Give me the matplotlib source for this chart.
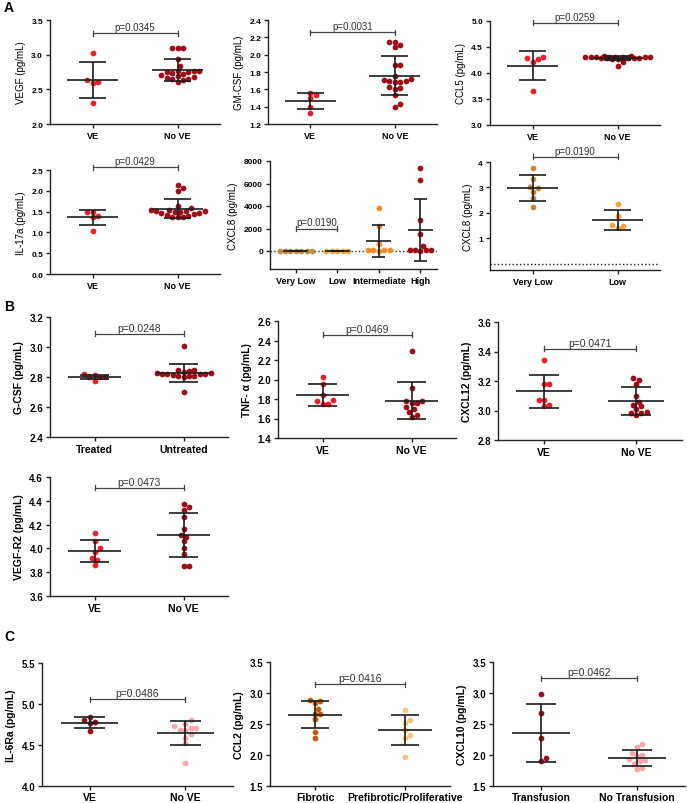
import numpy as np
import matplotlib
matplotlib.use("Agg")
import matplotlib.pyplot as plt

plt.rcParams['font.family'] = ['Liberation Sans', 'DejaVu Sans']

# ---- values (pg/mL) ----
vegf_ve = [3.03, 2.63, 2.61, 2.59, 2.31]
vegf_nove = [3.10, 3.09, 3.09, 2.94, 2.84, 2.77, 2.76, 2.76, 2.75, 2.75,
             2.74, 2.72, 2.70, 2.69, 2.68, 2.66, 2.65, 2.65, 2.64, 2.61]
gmcsf_ve = [1.56, 1.53, 1.50, 1.40, 1.33]
gmcsf_nove = [2.15, 2.15, 2.11, 2.09, 1.88, 1.88, 1.75, 1.72, 1.71, 1.70,
              1.70, 1.69, 1.68, 1.63, 1.62, 1.60, 1.53, 1.43, 1.40]
ccl5_ve = [4.30, 4.27, 4.21, 4.28, 3.65]
ccl5_nove = [4.32, 4.32, 4.31, 4.31, 4.31, 4.30, 4.30, 4.30, 4.30, 4.30,
             4.29, 4.29, 4.29, 4.28, 4.28, 4.27, 4.27, 4.21, 4.14]
il17_ve = [1.50, 1.50, 1.40, 1.36, 1.04]
il17_nove = [2.13, 2.06, 2.00, 1.64, 1.58, 1.55, 1.53, 1.52, 1.52, 1.52,
             1.50, 1.48, 1.46, 1.46, 1.45, 1.43, 1.40, 1.38, 1.37, 1.37]
cxcl8_vlow = [3.78, 3.35, 3.02, 2.97, 2.83, 2.58, 2.22]
cxcl8_low = [2.34, 1.89, 1.52, 1.49, 1.39]
cxcl8_int = [3850, 2200, 650, 120, 80, 60, 100, 40]
cxcl8_high = [7400, 6350, 2750, 1500, 450, 90, 70, 60, 50, 40]
cxcl8_groups = ['Very Low', 'Low', 'Intermediate', 'High']

gcsf_t = [2.813, 2.80, 2.80, 2.773, 2.80, 2.818]
gcsf_u = [3.01, 2.845, 2.85, 2.84, 2.835, 2.83, 2.825, 2.82, 2.82, 2.82,
          2.82, 2.815, 2.81, 2.81, 2.805, 2.80, 2.70]
tnf_ve = [2.03, 1.95, 1.84, 1.79, 1.78, 1.75, 1.75]
tnf_nove = [2.29, 1.91, 1.78, 1.78, 1.76, 1.76, 1.72, 1.70, 1.67, 1.64, 1.62]
cxcl12_ve = [3.34, 3.18, 3.18, 3.07, 3.07, 3.04, 3.03]
cxcl12_nove = [3.22, 3.21, 3.18, 3.10, 3.06, 3.04, 3.03, 3.01, 2.99, 2.98, 2.98, 2.97]
vegfr2_ve = [4.13, 4.06, 4.00, 3.97, 3.92, 3.90, 3.86]
vegfr2_nove = [4.37, 4.345, 4.325, 4.26, 4.16, 4.11, 4.10, 4.06, 4.00, 3.95, 3.85, 3.85]

il6ra_ve = [4.844, 4.804, 4.78, 4.764, 4.676]
il6ra_nove = [4.81, 4.76, 4.73, 4.71, 4.71, 4.68, 4.68, 4.64, 4.59, 4.52, 4.28]
ccl2_fib = [2.895, 2.863, 2.837, 2.737, 2.663, 2.663, 2.574, 2.368, 2.279]
ccl2_pre = [2.72, 2.568, 2.52, 2.405, 2.316, 2.268, 1.974]
cxcl10_tr = [2.99, 2.68, 2.28, 1.95, 1.90]
cxcl10_notr = [2.17, 2.13, 2.03, 2.00, 1.99, 1.93, 1.92, 1.90, 1.86, 1.79, 1.78]

RED = '#f21c24'
DARKRED = '#a10d17'
TAN = '#c38c3c'
LORANGE = '#f6a43e'
ORANGE = '#ff8a1c'
BROWN = '#c8580c'
PEACH = '#f9c67c'
PINK = '#f5a7ab'
LINE = '#1c1c1c'

W, H = 687, 804
fig = plt.figure(figsize=(W / 100, H / 100), dpi=100)


def add_axes(left, top, right, bottom):
    return fig.add_axes([left / W, 1 - bottom / H, (right - left) / W, (bottom - top) / H])


def swarm_offsets(ax, x0, values, size_px=5.4, max_units=0.36):
    # simple beeswarm: spread points sideways so they don't overlap
    trans = ax.transData
    ppu = trans.transform((1, 0))[0] - trans.transform((0, 0))[0]
    ys = np.array([trans.transform((x0, v))[1] for v in values])
    step = size_px / 2
    c = np.arange(0, max_units * ppu + step, step)
    cands = sorted(set(np.concatenate([c, -c])), key=lambda v: (abs(v), -v))
    placed = []
    offs = np.zeros(len(values))
    for i in np.argsort(ys):
        best, best_d = 0.0, -1
        for cand in cands:
            d = min([np.hypot(cand - px, ys[i] - py) for px, py in placed], default=np.inf)
            if d >= size_px * 0.95:
                best = cand
                break
            if d > best_d:
                best, best_d = cand, d
        placed.append((best, ys[i]))
        offs[i] = best / ppu
    return offs


def panel(box, groups, colors, names, ylim, yticks, ylabel, pval, bar_y,
          big=False, xlim=None, zero=False, fmt='{:.1f}', pair=(0, 1), xpad=2):
    ax = add_axes(*box)
    n = len(groups)
    ax.set_xlim(xlim if xlim else (-0.5, n - 0.5))
    ax.set_ylim(*ylim)
    for sp in ('top', 'right'):
        ax.spines[sp].set_visible(False)
    for sp in ('left', 'bottom'):
        ax.spines[sp].set_linewidth(1.0)
        ax.spines[sp].set_color('#222222')

    tick_fs = 7 if big else 6
    ax.set_yticks(yticks)
    ax.set_yticklabels([fmt.format(t) for t in yticks], fontsize=tick_fs, fontweight='bold')
    ax.set_xticks(range(n))
    ax.set_xticklabels(names, fontsize=tick_fs + 0.5, fontweight='bold')
    ax.tick_params(direction='out', length=3, width=1, pad=2, color='#222222')
    ax.tick_params(axis='x', pad=xpad)
    ax.set_ylabel(ylabel, fontsize=7.5 if big else 7,
                  fontweight='bold' if big else 'normal', labelpad=4)

    if zero:
        ax.axhline(0, ls=':', color='#222222', lw=1, zorder=1)

    for i, (vals, col) in enumerate(zip(groups, colors)):
        vals = np.asarray(vals, float)
        offs = swarm_offsets(ax, i, vals)
        ax.scatter(i + offs, vals, s=17, color=col, linewidths=0, zorder=3, clip_on=False)
        m, sd = vals.mean(), vals.std(ddof=1)
        ax.hlines(m, i - 0.3, i + 0.3, color=LINE, lw=1.2, zorder=4)
        ax.hlines([m - sd, m + sd], i - 0.16, i + 0.16, color=LINE, lw=1.2, zorder=4)
        ax.vlines(i, m - sd, m + sd, color=LINE, lw=1.2, zorder=4)

    # significance bracket
    hpx = box[3] - box[1]
    dy = (ylim[1] - ylim[0]) / hpx * 2.5
    x1, x2 = pair
    kw = dict(color='#444444', lw=0.9, clip_on=False)
    ax.plot([x1, x2], [bar_y, bar_y], **kw)
    ax.plot([x1, x1], [bar_y - dy, bar_y + dy], **kw)
    ax.plot([x2, x2], [bar_y - dy, bar_y + dy], **kw)
    ax.text((x1 + x2) / 2, bar_y + dy * 0.4, 'p=' + pval, ha='center', va='bottom',
            fontsize=7.5 if big else 7, color='#333333', clip_on=False)
    return ax


ve = ['VE', 'No VE']

# ---- A ----
panel((50, 21, 220, 125), [vegf_ve, vegf_nove], [RED, DARKRED], ve,
      (2.0, 3.5), [2.0, 2.5, 3.0, 3.5], 'VEGF (pg/mL)', '0.0345', 3.31)
panel((268, 21, 437, 125), [gmcsf_ve, gmcsf_nove], [RED, DARKRED], ve,
      (1.2, 2.4), [1.2, 1.4, 1.6, 1.8, 2.0, 2.2, 2.4], 'GM-CSF (pg/mL)', '0.0031', 2.26)
panel((490, 22, 660, 126), [ccl5_ve, ccl5_nove], [RED, DARKRED], ve,
      (3.0, 5.0), [3.0, 3.5, 4.0, 4.5, 5.0], 'CCL5 (pg/mL)', '0.0259', 4.97)
panel((50, 171, 220, 275), [il17_ve, il17_nove], [RED, DARKRED], ve,
      (0.0, 2.5), [0.0, 0.5, 1.0, 1.5, 2.0, 2.5], 'IL-17a (pg/mL)', '0.0429', 2.57)
panel((270, 162, 437, 270), [cxcl8_vlow, cxcl8_low, cxcl8_int, cxcl8_high],
      [TAN, LORANGE, ORANGE, DARKRED], cxcl8_groups,
      (-1600, 8000), [0, 2000, 4000, 6000, 8000], 'CXCL8 (pg/mL)', '0.0190', 2000,
      xlim=(-0.62, 3.4), zero=True, fmt='{:.0f}')
panel((490, 163, 660, 271), [cxcl8_vlow, cxcl8_low], [TAN, LORANGE], cxcl8_groups[:2],
      (-0.25, 4.0), [1, 2, 3, 4], 'CXCL8 (pg/mL)', '0.0190', 4.2, zero=True, fmt='{:.0f}')

# ---- B ----
panel((50, 318, 228, 438), [gcsf_t, gcsf_u], [RED, DARKRED], ['Treated', 'Untreated'],
      (2.4, 3.2), [2.4, 2.6, 2.8, 3.0, 3.2], 'G-CSF (pg/mL)', '0.0248', 3.087, big=True)
panel((278, 322, 456, 439), [tnf_ve, tnf_nove], [RED, DARKRED], ve,
      (1.4, 2.6), [1.4, 1.6, 1.8, 2.0, 2.2, 2.4, 2.6], 'TNF- \u03b1 (pg/mL)', '0.0469', 2.46, big=True)
panel((498, 323, 682, 441), [cxcl12_ve, cxcl12_nove], [RED, DARKRED], ve,
      (2.8, 3.6), [2.8, 3.0, 3.2, 3.4, 3.6], 'CXCL12 (pg/mL)', '0.0471', 3.42, big=True)
panel((50, 478, 228, 597), [vegfr2_ve, vegfr2_nove], [RED, DARKRED], ve,
      (3.6, 4.6), [3.6, 3.8, 4.0, 4.2, 4.4, 4.6], 'VEGF-R2 (pg/mL)', '0.0473', 4.51, big=True)

# ---- C ----
panel((42, 664, 233, 787), [il6ra_ve, il6ra_nove], [DARKRED, PINK], ve,
      (4.0, 5.5), [4.0, 4.5, 5.0, 5.5], 'IL-6Ra (pg/mL)', '0.0486', 5.06, big=True, xpad=1)
panel((270, 663, 450, 787), [ccl2_fib, ccl2_pre], [BROWN, PEACH],
      ['Fibrotic', 'Prefibrotic/Proliferative'],
      (1.5, 3.5), [1.5, 2.0, 2.5, 3.0, 3.5], 'CCL2 (pg/mL)', '0.0416', 3.14, big=True, xpad=1)
panel((493, 663, 685, 787), [cxcl10_tr, cxcl10_notr], [DARKRED, PINK],
      ['Transfusion', 'No Transfusion'],
      (1.5, 3.5), [1.5, 2.0, 2.5, 3.0, 3.5], 'CXCL10 (pg/mL)', '0.0462', 3.24, big=True, xpad=1)

for letter, y in (('A', 8), ('B', 307), ('C', 637)):
    fig.text(4 / W, 1 - y / H, letter, fontsize=10, fontweight='bold', va='center', ha='left')

fig.savefig('out.png', dpi=100)
